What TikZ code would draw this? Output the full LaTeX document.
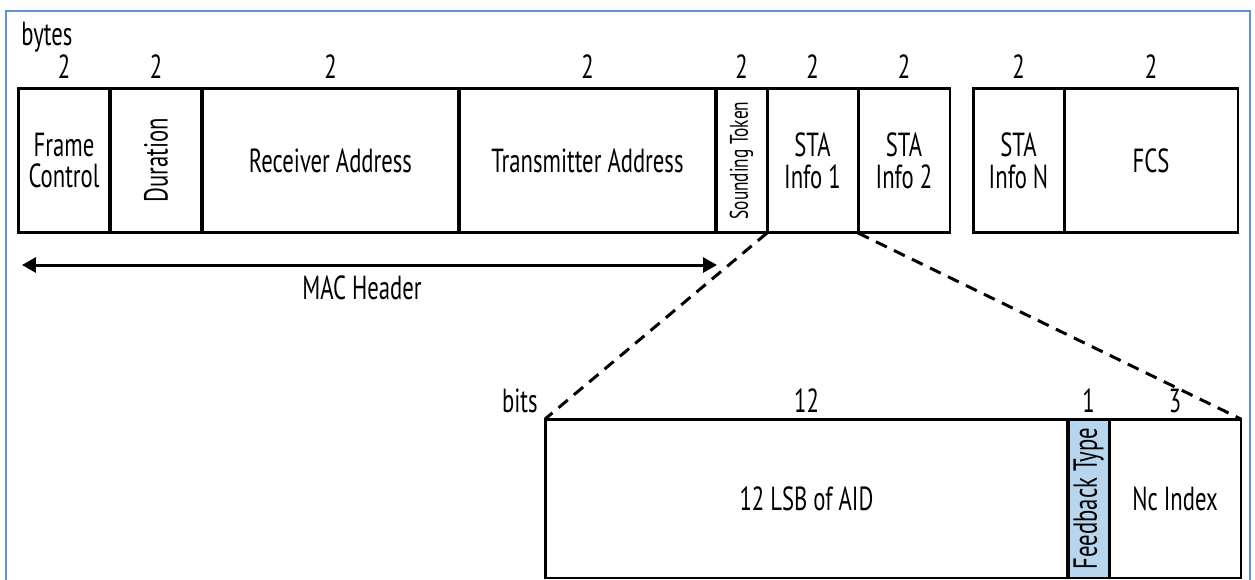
\documentclass[tikz,border=0pt]{standalone}
\usepackage{fontspec}
\usepackage{graphicx}
\setmainfont[FakeStretch=0.68]{PT Sans}
\usetikzlibrary{positioning,arrows.meta}
\definecolor{framecol}{RGB}{98,146,214}
\definecolor{fbfill}{RGB}{183,213,236}

\begin{document}
\begin{tikzpicture}[x=0.02cm, y=-0.02cm, >={Triangle[length=0.28cm,width=0.3cm]},
  field/.style={draw, line width=1.7pt, inner sep=0pt, outer sep=0pt, align=center,
    minimum height=2.9cm, font=\fontsize{19}{18}\selectfont},
  bitfield/.style={field, minimum height=3.18cm},
  num/.style={inner sep=0pt, font=\fontsize{19}{18}\selectfont},
  zoomline/.style={line width=1.7pt, dash pattern=on 0.24cm off 0.16cm}]
\clip (0,0) rectangle (1255,579);
\draw[framecol, line width=0.9pt] (6,600) -- (6,11) -- (1250,11) -- (1250,600);

% frame fields
\node[field, minimum width=1.84cm] (fc) at (64,160.5) {Frame\\Control};
\node[field, minimum width=1.84cm] (dur) at (156,160.5) {\rotatebox{90}{Duration}};
\node[field, minimum width=5.14cm] (ra) at (330.5,160.5) {Receiver Address};
\node[field, minimum width=5.14cm] (ta) at (587.5,160.5) {Transmitter Address};
\node[field, minimum width=1.02cm] (st) at (741.5,160.5) {\rotatebox{90}{\fontsize{14.5}{16}\selectfont Sounding Token}};
\node[field, minimum width=1.82cm] (s1) at (812.5,160.5) {STA\\Info 1};
\node[field, minimum width=1.84cm] (s2) at (904,160.5) {STA\\Info 2};
\node[field, minimum width=1.82cm] (sn) at (1018.5,160.5) {STA\\Info N};
\node[field, minimum width=3.48cm] (fcs) at (1151,160.5) {FCS};

\node[num, anchor=base west] (bytes) at (21,45) {bytes};
\foreach \f in {fc,dur,ra,ta,st,s1,s2,sn,fcs}
  \path (\f.north) ++(0,-10) node[num, anchor=base] (\f-n) {2};

% MAC header span
\coordinate (mh-l) at (22,265);
\coordinate (mh-r) at (717,265);
\draw[<->, line width=1.7pt] (mh-l) -- (mh-r);
\node[num] (mh) at (362,288) {MAC Header};

% STA info bits
\node[bitfield, minimum width=10.46cm] (aid) at (806.5,498.5) {12 LSB of AID};
\node[bitfield, minimum width=0.82cm, fill=fbfill] (fb) at (1088.5,498.5) {\rotatebox{90}{Feedback Type}};
\node[bitfield, minimum width=2.64cm] (nc) at (1175,498.5) {Nc Index};

\node[num, anchor=base east] (bits) at (538,412) {bits};
\path (aid.north) ++(0,-7) node[num, anchor=base] (aid-n) {12};
\path (fb.north) ++(0,-7) node[num, anchor=base] (fb-n) {1};
\path (nc.north) ++(0,-7) node[num, anchor=base] (nc-n) {3};

\draw[zoomline] (s1.south west) -- (aid.north west);
\draw[zoomline] (s1.south east) -- (nc.north east);
\end{tikzpicture}
\end{document}
